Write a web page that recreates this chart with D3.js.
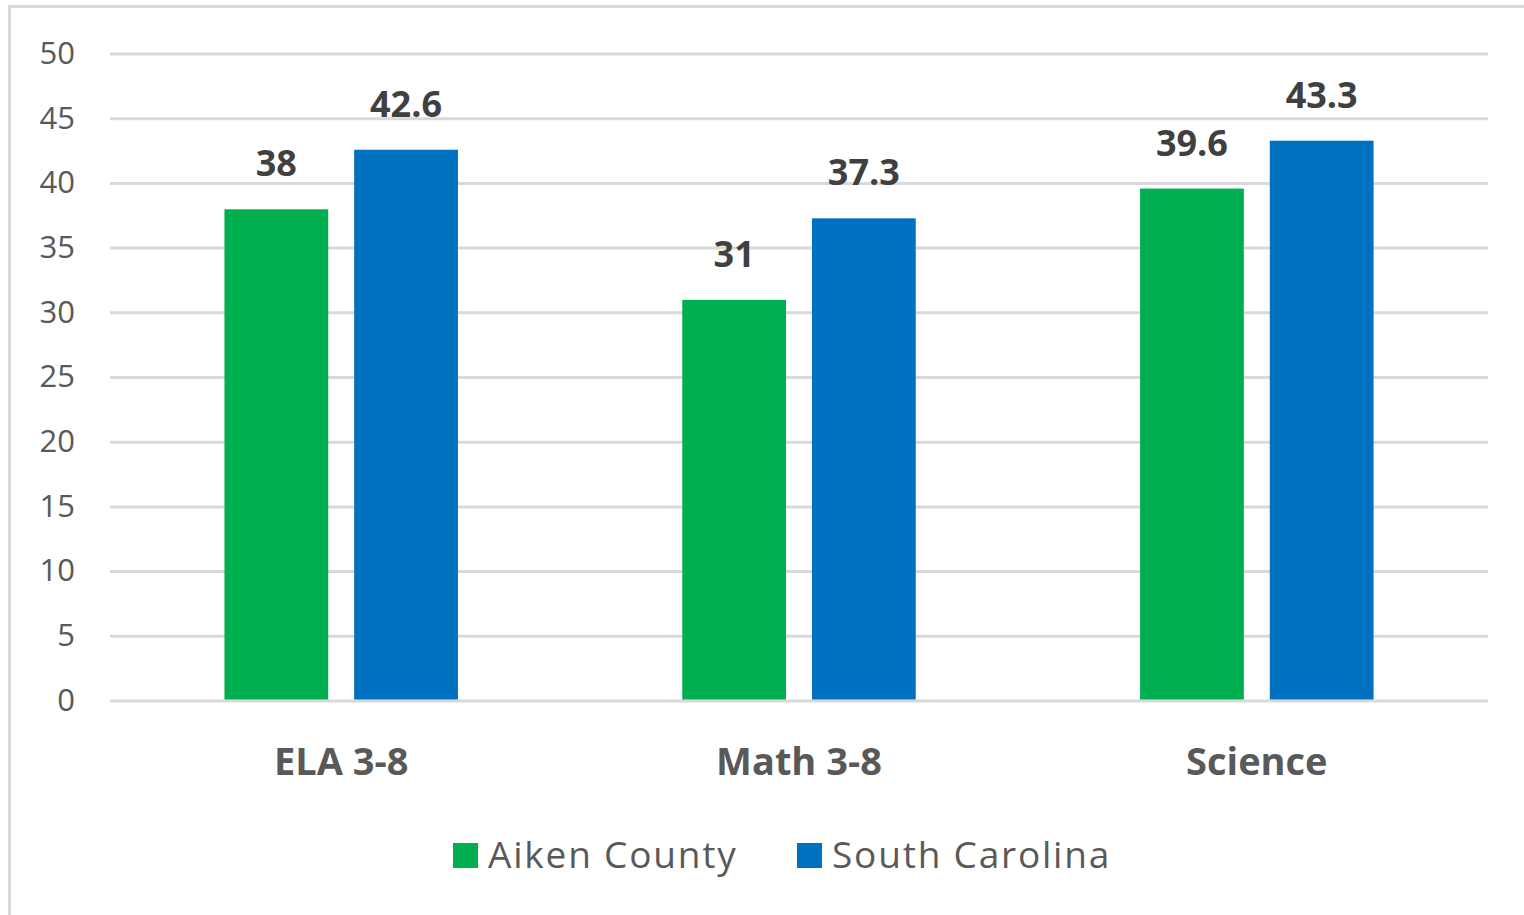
<!DOCTYPE html>
<html>
<head>
<meta charset="utf-8">
<script src="https://cdn.jsdelivr.net/npm/d3@7"></script>
<style>
  html, body { margin: 0; padding: 0; background: #fff; }
  svg { display: block; font-family: "Open Sans", sans-serif; }
</style>
</head>
<body>
<svg id="chart"></svg>
<script>
var categories = ["ELA 3-8", "Math 3-8", "Science"];
var seriesNames = ["Aiken County", "South Carolina"];
var aikenValues = [38, 31, 39.6];
var scValues = [42.6, 37.3, 43.3];
var yTicks = [0, 5, 10, 15, 20, 25, 30, 35, 40, 45, 50];
var colors = ["#00b050", "#0070c0"];

var W = 1524, H = 915;
var svg = d3.select("#chart").attr("width", W).attr("height", H);

// outer chart frame (right/bottom edges fall outside the picture)
svg.append("rect")
    .attr("x", 9.5).attr("y", 6.5)
    .attr("width", W + 20).attr("height", H + 20)
    .attr("fill", "#fff")
    .attr("stroke", "#d9d9d9")
    .attr("stroke-width", 3);

var plotLeft = 110, plotRight = 1488;

var x0 = d3.scaleBand().domain(categories)
    .range([plotLeft, plotRight])
    .paddingInner(0.49).paddingOuter(0.25);

var x1 = d3.scaleBand().domain(seriesNames)
    .range([0, x0.bandwidth()])
    .paddingInner(0.2).paddingOuter(0);

var y = d3.scaleLinear().domain([0, 50]).range([701, 54]);

var rows = categories.map(function (c, i) {
    return { cat: c, values: [aikenValues[i], scValues[i]] };
});

// gridlines
svg.append("g").selectAll("line")
    .data(yTicks).enter().append("line")
    .attr("x1", plotLeft).attr("x2", plotRight)
    .attr("y1", function (d) { return y(d); })
    .attr("y2", function (d) { return y(d); })
    .attr("stroke", "#d9d9d9")
    .attr("stroke-width", 3);

// y axis labels
var yAxis = d3.axisLeft(y).tickValues(yTicks).tickSize(0).tickPadding(0);
var yg = svg.append("g").attr("transform", "translate(75,0)").call(yAxis);
yg.select(".domain").remove();
yg.selectAll("text")
    .attr("font-family", "Open Sans, sans-serif")
    .attr("font-size", 31)
    .attr("fill", "#595959")
    .attr("dy", "0.3em");

// bars
var groups = svg.append("g").selectAll("g")
    .data(rows).enter().append("g")
    .attr("transform", function (d) { return "translate(" + x0(d.cat) + ",0)"; });

groups.selectAll("rect")
    .data(function (d) {
        return d.values.map(function (v, i) { return { name: seriesNames[i], value: v, i: i }; });
    })
    .enter().append("rect")
    .attr("x", function (d) { return x1(d.name); })
    .attr("width", x1.bandwidth())
    .attr("y", function (d) { return y(d.value); })
    .attr("height", function (d) { return y(0) - 1.5 - y(d.value); })
    .attr("fill", function (d) { return colors[d.i]; });

// data labels
groups.selectAll("text")
    .data(function (d) {
        return d.values.map(function (v, i) { return { name: seriesNames[i], value: v }; });
    })
    .enter().append("text")
    .attr("x", function (d) { return x1(d.name) + x1.bandwidth() / 2; })
    .attr("y", function (d) { return y(d.value) - 33; })
    .attr("text-anchor", "middle")
    .attr("font-size", 36)
    .attr("font-weight", "bold")
    .attr("fill", "#404040")
    .text(function (d) { return d.value; });

// category labels
var xAxis = d3.axisBottom(x0).tickSize(0).tickPadding(0);
var xg = svg.append("g").attr("transform", "translate(0,775)").call(xAxis);
xg.select(".domain").remove();
xg.selectAll("text")
    .attr("font-family", "Open Sans, sans-serif")
    .attr("font-size", 38)
    .attr("font-weight", "bold")
    .attr("fill", "#595959")
    .attr("dy", 0);

// legend
var legendX = [453, 797];
var legend = svg.append("g").selectAll("g")
    .data(seriesNames).enter().append("g")
    .attr("transform", function (d, i) { return "translate(" + legendX[i] + ",843)"; });

legend.append("rect")
    .attr("width", 25).attr("height", 25)
    .attr("fill", function (d, i) { return colors[i]; });

legend.append("text")
    .attr("x", 35).attr("y", 25)
    .attr("font-size", 37)
    .attr("letter-spacing", 1.8)
    .attr("fill", "#595959")
    .text(function (d) { return d; });
</script>
</body>
</html>
